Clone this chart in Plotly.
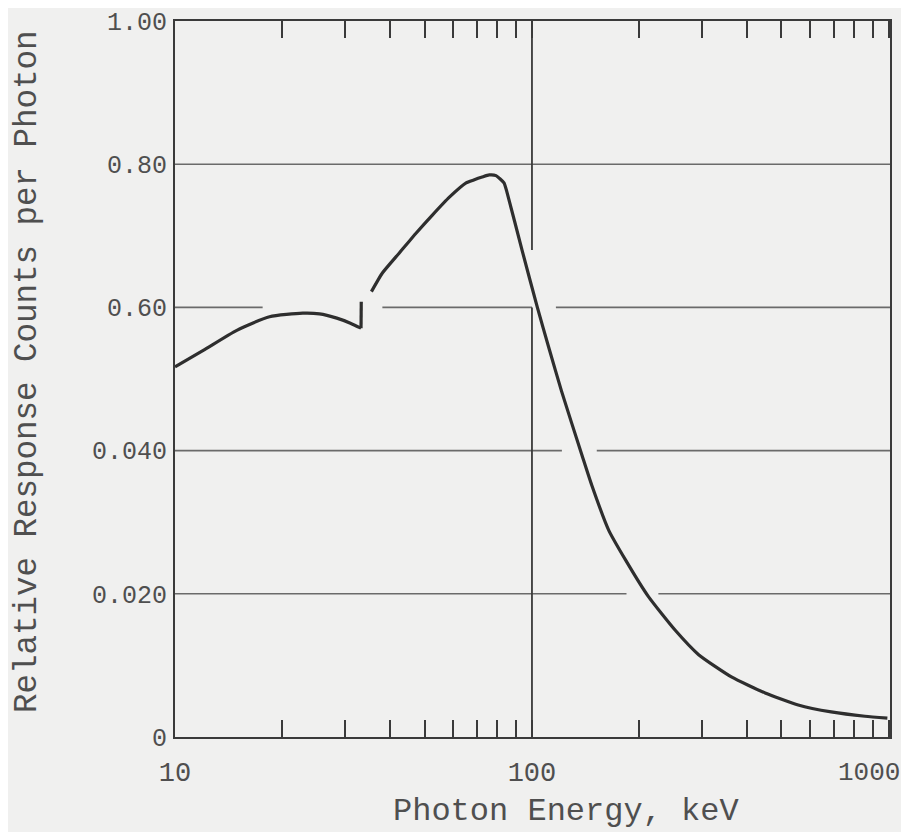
import plotly.graph_objects as go

# ---- data ----
# below the iodine K-edge
pre_edge_kev = [10, 12.0, 14.9, 18.4, 22.8, 25.4, 28.4, 31.0, 33.2]
pre_edge_resp = [0.517, 0.540, 0.568, 0.587, 0.592, 0.591, 0.585, 0.578, 0.571]
# the jump at the edge
edge_kev = [33.2, 33.25]
edge_resp = [0.571, 0.608]
# above the edge
post_edge_kev = [35.5, 38.1, 42.5, 47.4, 52.6, 58.7, 65.4, 68.7, 72.5, 75.9, 79.3,
                 83.5, 85.1, 93.8, 103.4, 111.6, 121.0, 138.0, 147.0, 164.0, 183.0,
                 212.0, 252.0, 293.0, 362.0, 450.0, 557.0, 689.0, 857.0, 990.0]
post_edge_resp = [0.622, 0.648, 0.676, 0.704, 0.729, 0.754, 0.774, 0.778, 0.782, 0.785, 0.784,
                  0.774, 0.761, 0.680, 0.601, 0.543, 0.483, 0.394, 0.352, 0.289, 0.247,
                  0.196, 0.149, 0.115, 0.084, 0.0615, 0.0447, 0.035, 0.029, 0.0265]

y_tick_vals = [0, 0.2, 0.4, 0.6, 0.8, 1.0]
y_tick_text = ["0", "0.020", "0.040", "0.60", "0.80", "1.00"]

x_tick_vals = [10, 20, 30, 40, 50, 60, 70, 80, 90,
               100, 200, 300, 400, 500, 600, 700, 800, 900, 1000]
x_tick_text = ["10", "", "", "", "", "", "", "", "",
               "100", "", "", "", "", "", "", "", "", ""]
# the last decade label sits just left of the frame corner in the original
x_end_label = "1000"

# horizontal grid lines: level and visible x-segments (gaps as in the scan)
grid_levels = [0.8, 0.6, 0.4, 0.2]
grid_segments = [
    [(10, 1010)],
    [(10, 17.6), (38.1, 100), (116.7, 1010)],
    [(10, 121.3), (151.9, 1010)],
    [(10, 184), (226, 1010)],
]
# vertical grid line at 100 keV, with its gap
vgrid_x = 100
vgrid_segments = [(1.0, 0.68), (0.6, 0.0)]

X_TITLE = "Photon Energy, keV"
Y_TITLE = "Relative Response Counts per Photon"

INK = "#3a3a3a"
TEXT = "#4f4f4f"
GRID = "#6a6a6a"
BG = "#f0f0ef"
FONT = "Courier New, Liberation Mono, monospace"

fig = go.Figure()

for lvl, segs in zip(grid_levels, grid_segments):
    xs, ys = [], []
    for a, b in segs:
        xs += [a, b, None]
        ys += [lvl, lvl, None]
    fig.add_trace(go.Scatter(x=xs, y=ys, mode="lines",
                             line=dict(color=GRID, width=1.6),
                             hoverinfo="skip", showlegend=False))
xs, ys = [], []
for a, b in vgrid_segments:
    xs += [vgrid_x, vgrid_x, None]
    ys += [a, b, None]
fig.add_trace(go.Scatter(x=xs, y=ys, mode="lines",
                         line=dict(color=INK, width=1.8),
                         hoverinfo="skip", showlegend=False))

CURVE = dict(color="#2e2e2e", width=3.2)
fig.add_trace(go.Scatter(x=pre_edge_kev, y=pre_edge_resp, mode="lines",
                         line=dict(**CURVE, shape="spline", smoothing=0.6),
                         showlegend=False))
fig.add_trace(go.Scatter(x=edge_kev, y=edge_resp, mode="lines",
                         line=CURVE, showlegend=False))
fig.add_trace(go.Scatter(x=post_edge_kev, y=post_edge_resp, mode="lines",
                         line=dict(**CURVE, shape="spline", smoothing=0.5),
                         showlegend=False))

fig.update_layout(
    width=893, height=824, autosize=False,
    margin=dict(l=167, r=11, t=13, b=95, autoexpand=False),
    paper_bgcolor=BG, plot_bgcolor=BG,
    font=dict(family=FONT, color=TEXT),
    showlegend=False,
)
fig.update_xaxes(
    type="log", range=[1, 3.003], automargin=False,
    tickmode="array", tickvals=x_tick_vals, ticktext=x_tick_text,
    ticks="inside", ticklen=17, tickwidth=1.6, tickcolor=INK,
    showline=True, linecolor=INK, linewidth=2, mirror="ticks",
    showgrid=False, zeroline=False,
    tickfont=dict(family=FONT, size=27, color=TEXT),
    ticklabelstandoff=10,
)
fig.update_yaxes(
    range=[0, 1.0], automargin=False,
    tickmode="array", tickvals=y_tick_vals, ticktext=y_tick_text,
    ticks="", showline=True, linecolor=INK, linewidth=2, mirror=True,
    showgrid=False, zeroline=False,
    tickfont=dict(family=FONT, size=25, color=TEXT),
    ticklabelstandoff=1,
)

fig.add_annotation(text=x_end_label, xref="paper", yref="paper",
                   x=0.971, y=-0.05, xanchor="center", yanchor="middle",
                   showarrow=False, font=dict(family=FONT, size=26, color=TEXT))
fig.add_annotation(text=X_TITLE, xref="paper", yref="paper",
                   x=0.547, y=-0.1045, xanchor="center", yanchor="middle",
                   showarrow=False, font=dict(family=FONT, size=32, color=TEXT))
fig.add_annotation(text=Y_TITLE, xref="paper", yref="paper",
                   x=-0.207, y=0.511, xanchor="center", yanchor="middle",
                   textangle=-90, showarrow=False,
                   font=dict(family=FONT, size=32.5, color=TEXT))

fig.write_html("out.html")
